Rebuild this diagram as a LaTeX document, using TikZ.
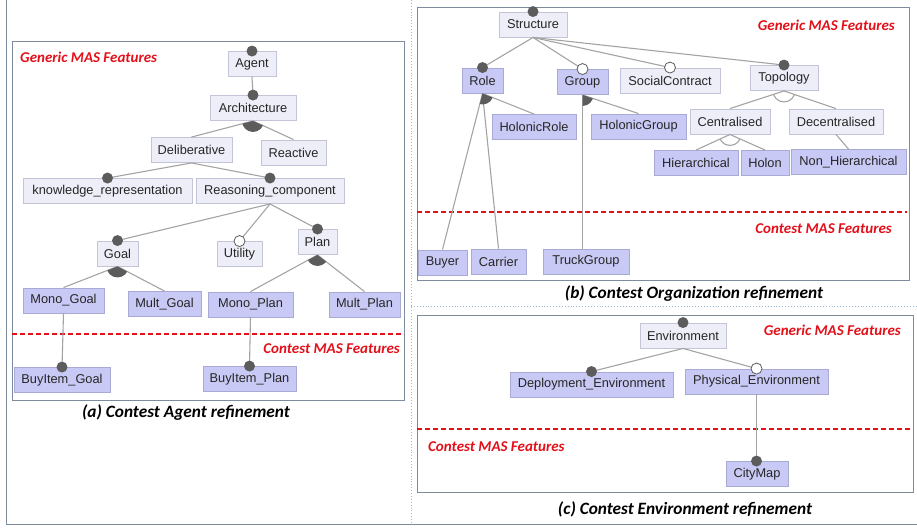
\documentclass[tikz,border=0pt]{standalone}
\usepackage{fontspec}
\setmainfont{Liberation Sans}
\newfontfamily\calib{Carlito}
\usetikzlibrary{calc}
\definecolor{lightfill}{HTML}{EEEEF9}
\definecolor{lightdraw}{HTML}{C4C4D8}
\definecolor{bluefill}{HTML}{C9C9F5}
\definecolor{bluedraw}{HTML}{A9A9D6}
\definecolor{edgecol}{HTML}{A3A3A3}
\definecolor{dotcol}{HTML}{5C5C5C}
\definecolor{redlab}{HTML}{E3101A}
\definecolor{panelcol}{HTML}{7D8C9C}
\definecolor{sepcol}{HTML}{9EBBD9}
\tikzset{
 feat/.style={draw, line width=0.9pt, inner sep=1pt, minimum height=25pt, font=\fontsize{12.8}{14}\selectfont, text=black!85},
 lightf/.style={feat, fill=lightfill, draw=lightdraw},
 bluef/.style={feat, fill=bluefill, draw=bluedraw},
 conn/.style={draw=edgecol, line width=1.1pt},
 panel/.style={draw=panelcol, line width=0.9pt},
 redsep/.style={draw=redlab, line width=1.3pt, dash pattern=on 5pt off 3pt},
 redlabel/.style={text=redlab, font=\calib\bfseries\itshape\fontsize{15}{17}\selectfont, inner sep=0pt},
 captionlab/.style={font=\calib\bfseries\itshape\fontsize{17.3}{20}\selectfont, inner sep=0pt},
 sepline/.style={draw=sepcol, line width=0.9pt, dotted},
}
\newcommand\mandot[1]{\fill[dotcol] (#1) circle (5.5pt);}
\newcommand\optdot[1]{\filldraw[fill=white, draw=dotcol, line width=0.8pt] (#1) circle (5.5pt);}
\newcommand\orarc[3]{\begin{scope}\clip (#1) -- ($(#1)!4!(#2)$) -- ($(#1)!4!(#3)$) -- cycle; \fill[dotcol] (#1) circle (11pt);\end{scope}}
\newcommand\altarc[3]{\begin{scope}\clip (#1) -- ($(#1)!4!(#2)$) -- ($(#1)!4!(#3)$) -- cycle; \draw[edgecol, line width=1.1pt] (#1) circle (11pt);\end{scope}}
\begin{document}
\begin{tikzpicture}[x=1pt, y=-1pt]
\useasboundingbox (0,0) rectangle (917,528);
% frame and separators
\draw[panelcol, line width=1pt] (6,0) -- (6,524) -- (917,524);
\draw[sepline] (411,0) -- (411,524);
\draw[sepline] (411,306) -- (917,306);
% panel boxes
\draw[panel] (12,41) rectangle (404,400);
\draw[panel] (417,7) rectangle (909,280);
\draw[panel] (417,315) rectangle (913,492);
\draw[redsep] (12,334) -- (404,334);
\draw[redsep] (417,212) -- (907,212);
\draw[redsep] (417,429) -- (913,429);
% labels
\node[redlabel, anchor=west] (ga) at (20,57) {Generic MAS Features};
\node[redlabel, anchor=east] (ca) at (400,349) {Contest MAS Features};
\node[redlabel, anchor=east] (gb) at (895,25) {Generic MAS Features};
\node[redlabel, anchor=east] (cb) at (892,229) {Contest MAS Features};
\node[redlabel, anchor=east] (gc) at (901,330) {Generic MAS Features};
\node[redlabel, anchor=west] (cc) at (428,447) {Contest MAS Features};
\node[captionlab] (capa) at (186,413) {(a) Contest Agent refinement};
\node[captionlab] (capb) at (694,294) {(b) Contest Organization refinement};
\node[captionlab] (capc) at (685,509) {(c) Contest Environment refinement};
% panel a nodes
\node[lightf, minimum width=48pt] (agent) at (252,64) {Agent};
\node[lightf, minimum width=86pt] (arch) at (253,108) {Architecture};
\node[lightf, minimum width=81pt] (delib) at (191.5,150) {Deliberative};
\node[lightf, minimum width=65pt] (react) at (293.5,152.5) {Reactive};
\node[lightf, minimum width=169pt] (know) at (107.5,191) {knowledge\_representation};
\node[lightf, minimum width=148pt] (reason) at (270,191) {Reasoning\_component};
\node[lightf, minimum width=41pt] (goal) at (117.5,253.5) {Goal};
\node[lightf, minimum width=45pt] (util) at (239.5,254) {Utility};
\node[lightf, minimum width=39pt] (plan) at (317.5,242) {Plan};
\node[bluef, minimum width=81pt] (monogoal) at (63.5,300.5) {Mono\_Goal};
\node[bluef, minimum width=73pt] (multgoal) at (164.5,304) {Mult\_Goal};
\node[bluef, minimum width=85pt] (monoplan) at (250.5,304.5) {Mono\_Plan};
\node[bluef, minimum width=71pt] (multplan) at (364.5,304.5) {Mult\_Plan};
\node[bluef, minimum width=96pt] (buygoal) at (62,380) {BuyItem\_Goal};
\node[bluef, minimum width=93pt] (buyplan) at (249.5,379) {BuyItem\_Plan};
% panel b nodes
\node[lightf, minimum width=68pt] (struct) at (533,24.5) {Structure};
\node[bluef, minimum width=41pt] (role) at (482.5,80.5) {Role};
\node[bluef, minimum width=51pt] (group) at (582.5,82) {Group};
\node[lightf, minimum width=100pt] (social) at (670,80.5) {SocialContract};
\node[lightf, minimum width=68pt] (topo) at (784,78) {Topology};
\node[bluef, minimum width=84pt] (holrole) at (534,127) {HolonicRole};
\node[bluef, minimum width=95pt] (holgroup) at (638.5,126.5) {HolonicGroup};
\node[lightf, minimum width=80pt] (central) at (730,121.5) {Centralised};
\node[lightf, minimum width=94pt] (decentral) at (836,121.5) {Decentralised};
\node[bluef, minimum width=84pt] (hier) at (696,163) {Hierarchical};
\node[bluef, minimum width=48pt] (holon) at (765,163) {Holon};
\node[bluef, minimum width=115pt] (nonhier) at (848.5,162) {Non\_Hierarchical};
\node[bluef, minimum width=49pt] (buyer) at (442.5,262.5) {Buyer};
\node[bluef, minimum width=55pt] (carrier) at (498.5,261.5) {Carrier};
\node[bluef, minimum width=86pt] (truck) at (586,261.5) {TruckGroup};
% panel c nodes
\node[lightf, minimum width=86pt] (env) at (683,335.5) {Environment};
\node[bluef, minimum width=163pt] (deploy) at (591.5,384.5) {Deployment\_Environment};
\node[bluef, minimum width=143pt] (phys) at (756.5,381.5) {Physical\_Environment};
\node[bluef, minimum width=62pt] (city) at (757,474) {CityMap};
% connectors panel a
\draw[conn] (agent.south) -- (arch.north);
\draw[conn] (arch.south) -- (delib.north);
\draw[conn] (arch.south) -- (react.north);
\draw[conn] (delib.south) -- (know.north);
\draw[conn] (delib.south) -- (reason.north);
\draw[conn] (reason.south) -- (goal.north);
\draw[conn] (reason.south) -- (util.north);
\draw[conn] (reason.south) -- (plan.north);
\draw[conn] (goal.south) -- (monogoal.north);
\draw[conn] (goal.south) -- (multgoal.north);
\draw[conn] (plan.south) -- (monoplan.north);
\draw[conn] (plan.south) -- (multplan.north);
\draw[conn] (monogoal.south) -- (buygoal.north);
\draw[conn] (monoplan.south) -- (buyplan.north);
% connectors panel b
\draw[conn] (struct.south) -- (role.north);
\draw[conn] (struct.south) -- (group.north);
\draw[conn] (struct.south) -- (social.north);
\draw[conn] (struct.south) -- (topo.north);
\draw[conn] (role.south) -- (buyer.north);
\draw[conn] (role.south) -- (carrier.north);
\draw[conn] (role.south) -- (holrole.north);
\draw[conn] (group.south) -- (holgroup.north);
\draw[conn] (group.south) -- (group.south |- truck.north);
\draw[conn] (topo.south) -- (central.north);
\draw[conn] (topo.south) -- (decentral.north);
\draw[conn] (central.south) -- (hier.north);
\draw[conn] (central.south) -- (holon.north);
\draw[conn] (decentral.south) -- (nonhier.north);
% connectors panel c
\draw[conn] (env.south) -- (deploy.north);
\draw[conn] (env.south) -- (phys.north);
\draw[conn] (phys.south) -- (phys.south |- city.north);
% group arcs
\orarc{arch.south}{delib.north}{react.north}
\orarc{goal.south}{monogoal.north}{multgoal.north}
\orarc{plan.south}{monoplan.north}{multplan.north}
\orarc{role.south}{buyer.north}{holrole.north}
\orarc{group.south}{truck.north -| group.south}{holgroup.north}
\altarc{topo.south}{central.north}{decentral.north}
\altarc{central.south}{hier.north}{holon.north}
% dots
\mandot{agent.north}
\mandot{arch.north}
\mandot{know.north}
\mandot{reason.north}
\mandot{goal.north}
\optdot{util.north}
\mandot{plan.north}
\mandot{buygoal.north}
\mandot{buyplan.north}
\mandot{struct.north}
\mandot{role.north}
\optdot{group.north}
\optdot{social.north}
\mandot{topo.north}
\mandot{env.north}
\mandot{deploy.north}
\optdot{phys.north}
\mandot{phys.south |- city.north}
\end{tikzpicture}
\end{document}
